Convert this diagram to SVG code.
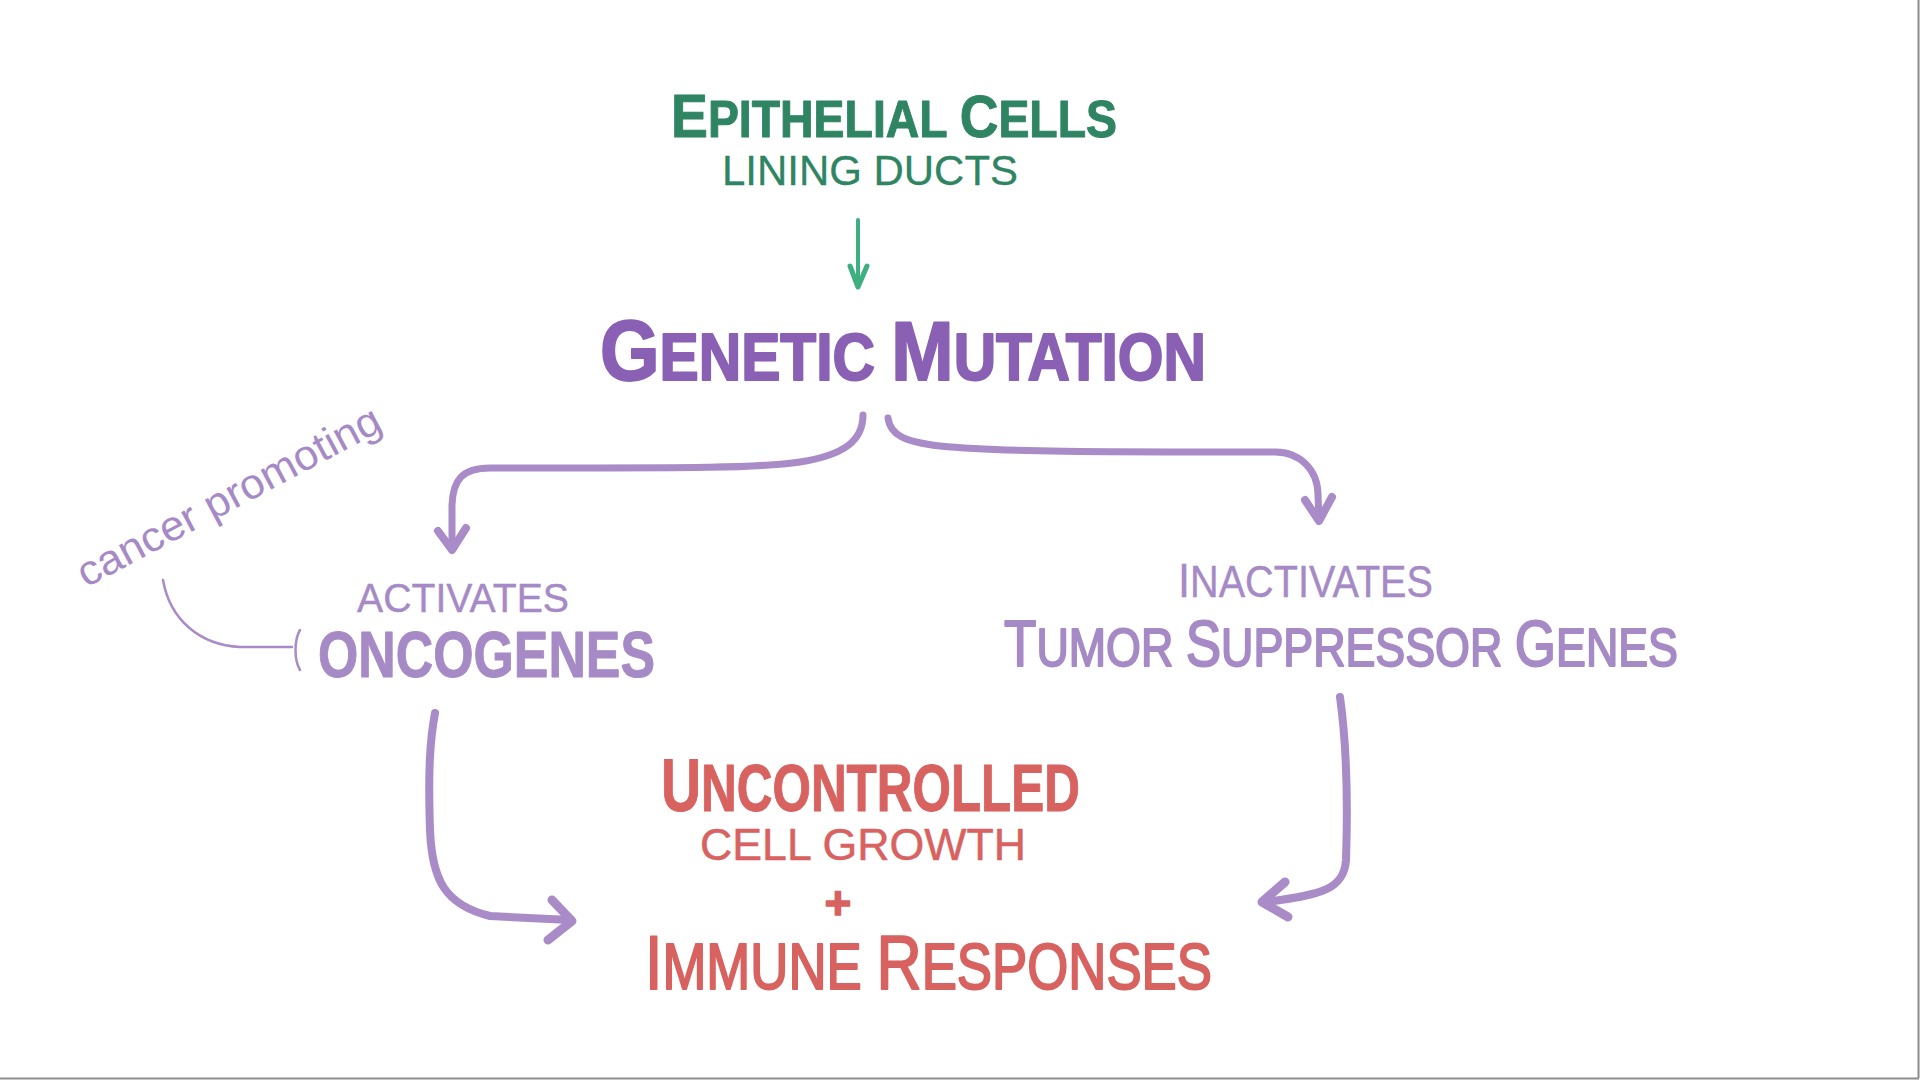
<svg xmlns="http://www.w3.org/2000/svg" width="1920" height="1080" viewBox="0 0 1920 1080">
<style>
text{font-family:"Liberation Sans",Arial,sans-serif}
.green{fill:#2f8563;stroke:#2f8563;stroke-linejoin:round}
.gm{fill:#8a60b4;stroke:#8a60b4;stroke-linejoin:round;font-weight:bold}
.lp{fill:#a68ac6;stroke:#a68ac6;stroke-linejoin:round}
.red{fill:#d8625f;stroke:#d8625f;stroke-linejoin:round}
.conn{fill:none;stroke:#a98bc8;stroke-linecap:round;stroke-linejoin:round}
</style>
<rect x="0" y="0" width="1920" height="1080" fill="#ffffff"/>
<line x1="1918.5" y1="0" x2="1918.5" y2="1078" stroke="#8c8c8c" stroke-width="2"/>
<line x1="0" y1="1078.5" x2="1919" y2="1078.5" stroke="#8c8c8c" stroke-width="2"/>

<g id="connectors">
  <g id="c-epithelial-genetic">
    <path d="M858,220 L858,285" fill="none" stroke="#3daf80" stroke-width="4" stroke-linecap="round"/>
    <path d="M850,266 L858,287 L867,266" fill="none" stroke="#3daf80" stroke-width="5" stroke-linecap="round" stroke-linejoin="round"/>
  </g>
  <g id="c-genetic-oncogenes" class="conn">
    <path d="M863,415 C863,440 845,455 800,462 C760,468 700,468 490,468 C462,468 453,480 452,505 L452,548" stroke-width="7"/>
    <path d="M438,531 L452,550 L466,528" stroke-width="8"/>
  </g>
  <g id="c-genetic-tumor" class="conn">
    <path d="M888,418 C890,435 905,442 940,446 C1000,452 1100,452 1275,452 C1300,452 1318,470 1318,495 L1319,519" stroke-width="7"/>
    <path d="M1305,500 L1319,521 L1332,497" stroke-width="8"/>
  </g>
  <g id="c-oncogenes-outcome" class="conn">
    <path d="M435,713 C430,740 428,770 430,830 C432,880 445,905 490,916 L570,920" stroke-width="8"/>
    <path d="M552,900 L572,921 L548,940" stroke-width="9"/>
  </g>
  <g id="c-tumor-outcome" class="conn">
    <path d="M1340,697 C1346,740 1348,800 1346,860 C1344,890 1320,895 1265,902" stroke-width="8"/>
    <path d="M1285,882 L1262,902 L1288,917" stroke-width="9"/>
  </g>
  <g id="c-annotation" class="conn">
    <path d="M163,580 C170,620 200,645 240,647 L292,647" stroke-width="2.5"/>
    <path d="M300,630 C294,640 294,660 300,670" stroke-width="2.5"/>
  </g>
</g>

<g id="node-epithelial">
  <text class="green" x="671" y="137" font-weight="bold" font-size="52" stroke-width="1" textLength="446" lengthAdjust="spacingAndGlyphs"><tspan font-size="62">E</tspan>PITHELIAL <tspan font-size="60">C</tspan>ELLS</text>
  <text class="green" x="722" y="185" font-size="42" stroke-width="0.3" textLength="296" lengthAdjust="spacingAndGlyphs">LINING DUCTS</text>
</g>

<g id="node-genetic">
  <text class="gm" x="600" y="380" font-size="66" stroke-width="2" textLength="606" lengthAdjust="spacingAndGlyphs"><tspan font-size="86">G</tspan>ENETIC <tspan font-size="84">M</tspan>UTATION</text>
</g>

<g id="node-oncogenes">
  <text class="lp" x="357" y="612" font-size="40" stroke-width="0.4" textLength="212" lengthAdjust="spacingAndGlyphs">ACTIVATES</text>
  <text class="lp" x="318" y="677" font-size="64" font-weight="bold" stroke-width="1" textLength="337" lengthAdjust="spacingAndGlyphs">ONCOGENES</text>
</g>

<g id="node-annotation">
  <text class="lp" x="86" y="588" font-size="42" stroke-width="0" transform="rotate(-28 86 588)" textLength="338" lengthAdjust="spacingAndGlyphs">cancer promoting</text>
</g>

<g id="node-tumor">
  <text class="lp" x="1178" y="597" font-size="44" stroke-width="0.4" textLength="255" lengthAdjust="spacingAndGlyphs"><tspan font-size="48">I</tspan>NACTIVATES</text>
  <text class="lp" x="1004" y="666" font-size="54" stroke-width="2" textLength="674" lengthAdjust="spacingAndGlyphs"><tspan font-size="64">T</tspan>UMOR <tspan font-size="64">S</tspan>UPPRESSOR <tspan font-size="64">G</tspan>ENES</text>
</g>

<g id="node-outcome">
  <text class="red" x="661" y="811" font-size="66" font-weight="bold" stroke-width="1" textLength="419" lengthAdjust="spacingAndGlyphs"><tspan font-size="74">U</tspan>NCONTROLLED</text>
  <text class="red" x="700" y="860" font-size="44" stroke-width="0.5" textLength="326" lengthAdjust="spacingAndGlyphs">CELL GROWTH</text>
  <text class="red" x="838" y="919" font-size="46" font-weight="bold" text-anchor="middle" stroke-width="1.5">+</text>
  <text class="red" x="645" y="989" font-size="64" stroke-width="2" textLength="567" lengthAdjust="spacingAndGlyphs"><tspan font-size="76">I</tspan>MMUNE <tspan font-size="76">R</tspan>ESPONSES</text>
</g>
</svg>
